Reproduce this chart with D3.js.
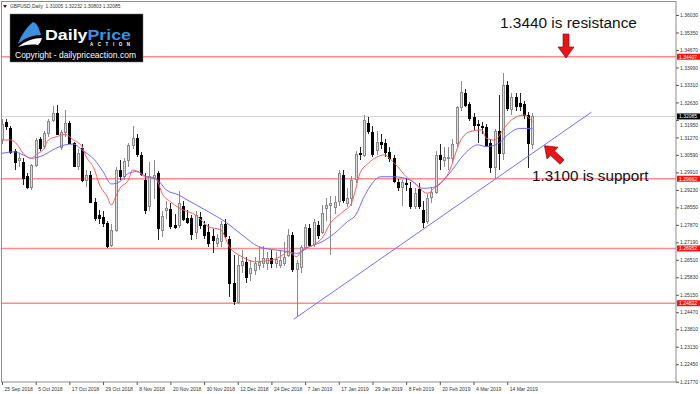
<!DOCTYPE html>
<html>
<head>
<meta charset="utf-8">
<script src="https://cdn.jsdelivr.net/npm/d3@7"></script>
<style>
  html, body { margin: 0; padding: 0; background: #fff; }
  svg { display: block; font-family: "Liberation Sans", Arial, sans-serif; }
</style>
</head>
<body>
<svg width="700" height="394"></svg>
<script>
// GBPUSD daily candles, 25 Sep 2018 .. 22 Mar 2019
const opens = [1.3122,1.3185,1.3165,1.3074,1.3037,1.3033,1.2977,1.2933,1.3020,1.3119,
  1.3091,1.3143,1.3195,1.3223,1.3090,1.3148,1.3182,1.3104,1.3013,1.3085,
  1.2961,1.2981,1.2877,1.2825,1.2818,1.2793,1.2705,1.2765,1.3000,1.2975,
  1.3037,1.3097,1.3123,1.3059,1.2960,1.2860,1.2968,1.2987,1.2767,1.2845,
  1.2847,1.2786,1.2785,1.2860,1.2815,1.2812,1.2760,1.2819,1.2786,1.2760,
  1.2745,1.2715,1.2722,1.2790,1.2730,1.2560,1.2490,1.2630,1.2644,1.2598,
  1.2611,1.2631,1.2637,1.2637,1.2657,1.2640,1.2631,1.2640,1.2670,1.2747,
  1.2615,1.2624,1.2702,1.2774,1.2715,1.2786,1.2760,1.2851,1.2864,1.2858,
  1.2877,1.2981,1.2871,1.2890,1.2965,1.3065,1.3060,1.3182,1.3149,1.3080,
  1.3111,1.3105,1.3070,1.3045,1.2955,1.2932,1.2950,1.2929,1.2858,1.2925,
  1.2845,1.2800,1.2895,1.2915,1.3059,1.3040,1.3045,1.3045,1.3105,1.3245,
  1.3300,1.3255,1.3205,1.3180,1.3172,1.3169,1.3104,1.3010,1.3150,1.3065,
  1.3331,1.3240,1.3285,1.3260,1.3255,1.3214,1.31005];
const highs = [1.3200,1.3200,1.3172,1.3082,1.3065,1.3045,1.2990,1.3025,1.3125,1.3130,
  1.3150,1.3200,1.3249,1.3253,1.3155,1.3234,1.3190,1.3110,1.3080,1.3100,
  1.3000,1.2995,1.2890,1.2845,1.2840,1.2800,1.2790,1.3010,1.3040,1.3045,
  1.3105,1.3171,1.3140,1.3070,1.2990,1.3030,1.3040,1.2995,1.2840,1.2880,
  1.2870,1.2830,1.2920,1.2880,1.2845,1.2825,1.2840,1.2835,1.2800,1.2790,
  1.2770,1.2750,1.2800,1.2810,1.2745,1.2670,1.2670,1.2690,1.2660,1.2650,
  1.2660,1.2700,1.2705,1.2680,1.2690,1.2680,1.2690,1.2720,1.2770,1.2760,
  1.2650,1.2710,1.2790,1.2790,1.2810,1.2800,1.2865,1.2890,1.2900,1.2900,
  1.3000,1.3000,1.2930,1.2975,1.3075,1.3090,1.3214,1.3208,1.3170,1.3150,
  1.3140,1.3120,1.3090,1.3060,1.2965,1.2960,1.2970,1.2955,1.2930,1.2950,
  1.2880,1.2905,1.2935,1.3075,1.3100,1.3090,1.3090,1.3120,1.3250,1.3345,
  1.3315,1.3265,1.3220,1.3195,1.3185,1.3180,1.3120,1.3160,1.3290,1.3376,
  1.3345,1.3300,1.3300,1.3300,1.3270,1.3225,1.32232];
const lows = [1.3100,1.3155,1.3063,1.3000,1.3010,1.2942,1.2925,1.2923,1.3010,1.3075,
  1.3080,1.3130,1.3185,1.3135,1.3078,1.3130,1.3100,1.3010,1.3000,1.2955,
  1.2935,1.2870,1.2800,1.2790,1.2780,1.2696,1.2700,1.2760,1.2960,1.2960,
  1.3010,1.3080,1.3050,1.2975,1.2830,1.2840,1.2888,1.2728,1.2740,1.2810,
  1.2770,1.2770,1.2775,1.2800,1.2790,1.2728,1.2730,1.2770,1.2730,1.2700,
  1.2676,1.2700,1.2700,1.2735,1.2508,1.2477,1.2478,1.2600,1.2560,1.2570,
  1.2590,1.2610,1.2620,1.2610,1.2620,1.2620,1.2620,1.2625,1.2660,1.2605,
  1.2430,1.2600,1.2690,1.2700,1.2700,1.2730,1.2750,1.2800,1.2670,1.2830,
  1.2860,1.2870,1.2855,1.2860,1.2950,1.3040,1.3050,1.3140,1.3050,1.3060,
  1.3080,1.3050,1.3030,1.2950,1.2920,1.2860,1.2920,1.2850,1.2850,1.2850,
  1.2775,1.2790,1.2870,1.2905,1.3000,1.3010,1.3000,1.3030,1.3090,1.3230,
  1.3245,1.3190,1.3155,1.3105,1.3140,1.3090,1.2990,1.2965,1.3000,1.3040,
  1.3230,1.3215,1.3230,1.3230,1.3200,1.3007,1.30803];
const closes = [1.3180,1.3170,1.3071,1.3030,1.3046,1.2972,1.2936,1.3020,1.3117,1.3085,
  1.3143,1.3191,1.3223,1.3143,1.3148,1.3182,1.3104,1.3016,1.3065,1.2961,
  1.2981,1.2877,1.2815,1.2812,1.2793,1.2705,1.2765,1.3000,1.2975,1.3035,
  1.3097,1.3123,1.3059,1.2987,1.2845,1.2977,1.2980,1.2774,1.2821,1.2851,
  1.2780,1.2777,1.2871,1.2808,1.2800,1.2748,1.2825,1.2786,1.2748,1.2716,
  1.2728,1.2734,1.2790,1.2745,1.2560,1.2490,1.2632,1.2645,1.2585,1.2618,
  1.2637,1.2644,1.2657,1.2657,1.2637,1.2654,1.2650,1.2663,1.2747,1.2615,
  1.2637,1.2702,1.2780,1.2709,1.2799,1.2747,1.2832,1.2864,1.2870,1.2877,
  1.2987,1.2884,1.2890,1.2961,1.3062,1.3060,1.3195,1.3149,1.3065,1.3111,
  1.3105,1.3070,1.3045,1.2955,1.2935,1.2953,1.2945,1.2858,1.2910,1.2860,
  1.2800,1.2890,1.2915,1.3059,1.3045,1.3052,1.3050,1.3100,1.3245,1.3304,
  1.3255,1.3200,1.3175,1.3175,1.3168,1.3100,1.3010,1.3150,1.3065,1.3331,
  1.3240,1.3285,1.3250,1.3250,1.3214,1.3104,1.32085];

// moving averages: [bar, price]
const maFast = [[0,1.3117],[2,1.3117],[4,1.3091],[5,1.3065],[7,1.3046],[8,1.3059],[10,1.3085],
  [11,1.3117],[13,1.3130],[15,1.3139],[17,1.3117],[19,1.3091],[20,1.3052],[22,1.3000],
  [23,1.2949],[25,1.2896],[26,1.2864],[27,1.2896],[28,1.2929],[30,1.2961],[31,1.3000],
  [33,1.2987],[34,1.2972],[36,1.2972],[37,1.2955],[38,1.2910],[40,1.2877],[41,1.2864],
  [43,1.2845],[46,1.2825],[49,1.2780],[52,1.2767],[54,1.2702],[57,1.2663],[60,1.2644],
  [64,1.2650],[66,1.2663],[68,1.2683],[70,1.2663],[71,1.2683],[74,1.2709],[76,1.2735],
  [78,1.2793],[81,1.2838],[83,1.2871],[84,1.2925],[85,1.2987],[87,1.3026],[91,1.3059],
  [92,1.3046],[94,1.3013],[96,1.2974],[98,1.2949],[101,1.2910],[103,1.2935],[106,1.2987],
  [109,1.3117],[111,1.3149],[114,1.3156],[115,1.3124],[117,1.3117],[119,1.3156],
  [121,1.3195],[124,1.3214],[126,1.3188]];
const maSlow = [[0,1.3065],[3,1.3071],[5,1.3059],[7,1.3046],[10,1.3059],[12,1.3078],
  [15,1.3098],[17,1.3101],[19,1.3078],[22,1.3039],[24,1.2994],[26,1.2946],[28,1.2955],
  [30,1.2987],[32,1.2994],[34,1.2977],[37,1.2961],[39,1.2923],[42,1.2903],[44,1.2884],
  [49,1.2838],[53,1.2799],[57,1.2748],[61,1.2702],[65,1.2689],[68,1.2683],[70,1.2676],
  [73,1.2702],[76,1.2721],[79,1.2754],[82,1.2799],[84,1.2825],[86,1.2896],[90,1.2974],
  [93,1.2974],[97,1.2961],[100,1.2929],[103,1.2935],[106,1.2981],[110,1.3065],
  [113,1.3098],[115,1.3091],[118,1.3104],[120,1.3136],[123,1.3162],[126,1.3162]];

const levels = [1.34407, 1.29662, 1.26952, 1.24822];
const levelLabels = ["1.34407", "1.29662", "1.26952", "1.24822"];
const lastPrice = 1.32085;
const trendLine = [[69.3, 1.2420], [140, 1.3225]];

const yTicks = [1.36030,1.35350,1.34670,1.33990,1.33310,1.32630,1.31950,1.31270,1.30590,
  1.29910,1.29230,1.28550,1.27870,1.27190,1.26510,1.25830,1.25150,1.24470,1.23810,
  1.23130,1.22450,1.21770];
const xTickBars = [0,8,16,24,32,40,48,56,64,72,80,88,96,104,112,120];
const xTickLabels = ["25 Sep 2018","5 Oct 2018","17 Oct 2018","29 Oct 2018","8 Nov 2018",
  "20 Nov 2018","30 Nov 2018","12 Dec 2018","24 Dec 2018","7 Jan 2019","17 Jan 2019",
  "29 Jan 2019","8 Feb 2019","20 Feb 2019","4 Mar 2019","14 Mar 2019"];

const svg = d3.select("svg");
const pLeft = 2, pRight = 676, pTop = 2, pBottom = 382;

const x = d3.scaleLinear().domain([0, 160]).range([2, 2 + 160 * 4.21]);
const y = d3.scaleLinear().domain([1.21770, 1.36030]).range([381.7, 15]);

svg.append("defs").append("clipPath").attr("id", "plot")
  .append("rect").attr("x", pLeft).attr("y", pTop)
  .attr("width", pRight - pLeft).attr("height", pBottom - pTop);

const plot = svg.append("g").attr("clip-path", "url(#plot)");

// horizontal levels
plot.append("line")
  .attr("x1", pLeft).attr("x2", pRight)
  .attr("y1", Math.round(y(lastPrice)) + 0.5).attr("y2", Math.round(y(lastPrice)) + 0.5)
  .attr("stroke", "#d4d4d4").attr("stroke-width", 1);

plot.selectAll(".level").data(levels).enter().append("line")
  .attr("class", "level")
  .attr("x1", pLeft).attr("x2", pRight)
  .attr("y1", d => y(d)).attr("y2", d => y(d))
  .attr("stroke", "#ff8c8c").attr("stroke-width", 1.6);

// candles
const bars = d3.range(opens.length);
const cg = plot.append("g").attr("shape-rendering", "crispEdges");
const px = i => Math.round(x(i));
const up = i => closes[i] >= opens[i];

cg.selectAll(".wick").data(bars).enter().append("line")
  .attr("x1", i => px(i) + 0.5).attr("x2", i => px(i) + 0.5)
  .attr("y1", i => y(highs[i])).attr("y2", i => y(lows[i]))
  .attr("stroke", i => up(i) ? "#8a8a8a" : "#222");

cg.selectAll(".body").data(bars).enter().append("rect")
  .attr("x", i => px(i) - 0.5)
  .attr("width", 2)
  .attr("y", i => Math.round(y(Math.max(opens[i], closes[i]))) + 0.5)
  .attr("height", i => Math.max(1, Math.round(Math.abs(y(opens[i]) - y(closes[i])))))
  .attr("fill", i => up(i) ? "#dcdcdc" : "#000")
  .attr("stroke", i => up(i) ? "#8a8a8a" : "#000");

// moving averages
const maLine = d3.line().x(d => x(d[0])).y(d => y(d[1])).curve(d3.curveMonotoneX);
plot.append("path").datum(maSlow).attr("d", maLine)
  .attr("fill", "none").attr("stroke", "#6b6bff").attr("stroke-width", 1);
plot.append("path").datum(maFast).attr("d", maLine)
  .attr("fill", "none").attr("stroke", "#ff5a5a").attr("stroke-width", 1);

// trend line
plot.append("line")
  .attr("x1", x(trendLine[0][0])).attr("y1", y(trendLine[0][1]))
  .attr("x2", x(trendLine[1][0])).attr("y2", y(trendLine[1][1]))
  .attr("stroke", "#6f6fff").attr("stroke-width", 1);

// frame
svg.append("rect")
  .attr("x", pLeft - 0.5).attr("y", pTop - 0.5)
  .attr("width", pRight - pLeft + 0.5).attr("height", pBottom - pTop + 0.5)
  .attr("fill", "none").attr("stroke", "#8c8c8c").attr("stroke-width", 1);

// right price axis
const yAxis = svg.append("g")
  .attr("transform", `translate(${pRight},0)`)
  .call(d3.axisRight(y).tickValues(yTicks).tickFormat(d3.format(".5f")).tickSize(3).tickPadding(1));
yAxis.select(".domain").remove();
yAxis.selectAll("line").attr("stroke", "#555");
yAxis.selectAll("text").attr("font-size", 5).attr("fill", "#333")
  .attr("font-family", "Liberation Sans, Arial, sans-serif");
// the tick under the last-price tag peeks out just below it
yAxis.selectAll(".tick").filter(d => Math.abs(y(d) - y(lastPrice)) < 6)
  .select("text").attr("dy", "1.25em");

// bottom time axis
const xAxis = svg.append("g")
  .attr("transform", `translate(0,${pBottom})`)
  .call(d3.axisBottom(x).tickValues(xTickBars).tickFormat((d, i) => xTickLabels[i]).tickSize(3));
xAxis.select(".domain").remove();
xAxis.selectAll("line").attr("stroke", "#555");
xAxis.selectAll("text").attr("font-size", 5).attr("fill", "#333")
  .attr("text-anchor", "start").attr("dx", 2).attr("y", 5)
  .attr("font-family", "Liberation Sans, Arial, sans-serif");

// price tags
const tags = svg.append("g");
levels.forEach((v, k) => {
  tags.append("rect").attr("x", pRight + 1).attr("y", y(v) - 3).attr("width", 23).attr("height", 6)
    .attr("fill", "#ff1010");
  tags.append("text").attr("x", pRight + 3).attr("y", y(v) + 1.8).text(levelLabels[k])
    .attr("font-size", 5).attr("fill", "#fff");
});
tags.append("rect").attr("x", pRight + 1).attr("y", y(lastPrice) - 3).attr("width", 23).attr("height", 6)
  .attr("fill", "#000");
tags.append("text").attr("x", pRight + 3).attr("y", y(lastPrice) + 1.8).text(lastPrice.toFixed(5))
  .attr("font-size", 5).attr("fill", "#fff");

// header line
svg.append("path").attr("d", "M3,5 L7,5 L5,8 Z").attr("fill", "#222");
svg.append("text").attr("x", 10).attr("y", 8)
  .text("GBPUSD,Daily  1.31005 1.32232 1.30803 1.32085")
  .attr("font-size", 4.9).attr("fill", "#333").attr("xml:space", "preserve");

// logo
const logo = svg.append("g");
logo.append("rect").attr("x", 10).attr("y", 14).attr("width", 133).attr("height", 48)
  .attr("fill", "#000").attr("stroke", "#777").attr("stroke-width", 0.5);
logo.append("path")
  .attr("d", "M18,44 C21,35 27,27 33,22 C37,23 39,28 41,35 C33,35 25,38 18,44 Z")
  .attr("fill", "#3d8fe0");
logo.append("path")
  .attr("d", "M18,47 C25,41 34,38 42,38 C41,41 40,43 38,45 C31,44 24,45 18,47 Z")
  .attr("fill", "#fff");
const brand = logo.append("text").attr("x", 45).attr("y", 40)
  .attr("font-size", 15.5).attr("font-weight", "bold")
  .attr("textLength", 86).attr("lengthAdjust", "spacingAndGlyphs");
brand.append("tspan").attr("fill", "#fff").text("Daily");
brand.append("tspan").attr("fill", "#3d8fe0").text("Price");
logo.append("text").attr("x", 90).attr("y", 45.5).text("ACTION")
  .attr("font-size", 4.5).attr("font-weight", "bold").attr("fill", "#fff")
  .attr("textLength", 40).attr("lengthAdjust", "spacing");
logo.append("text").attr("x", 15).attr("y", 58).text("Copyright - dailypriceaction.com")
  .attr("font-size", 8.5).attr("fill", "#fff")
  .attr("textLength", 121).attr("lengthAdjust", "spacingAndGlyphs");

// annotations
svg.append("text").attr("x", 500).attr("y", 28).text("1.3440 is resistance")
  .attr("font-size", 15.4).attr("fill", "#111");
svg.append("text").attr("x", 532).attr("y", 181).text("1.3100 is support")
  .attr("font-size", 15.2).attr("fill", "#111");

// block arrow built along +x, then rotated
const arrowPts = [[0,-3],[13,-3],[13,-8],[24,0],[13,8],[13,3],[0,3]];
function arrow(x0, y0, angle) {
  svg.append("polygon")
    .attr("points", arrowPts.map(p => p.join(",")).join(" "))
    .attr("transform", `translate(${x0},${y0}) rotate(${angle})`)
    .attr("fill", "#e8141a").attr("stroke", "#7a0000").attr("stroke-width", 0.6);
}
arrow(566, 34, 90);
arrow(562, 162, -137);
</script>
</body>
</html>
